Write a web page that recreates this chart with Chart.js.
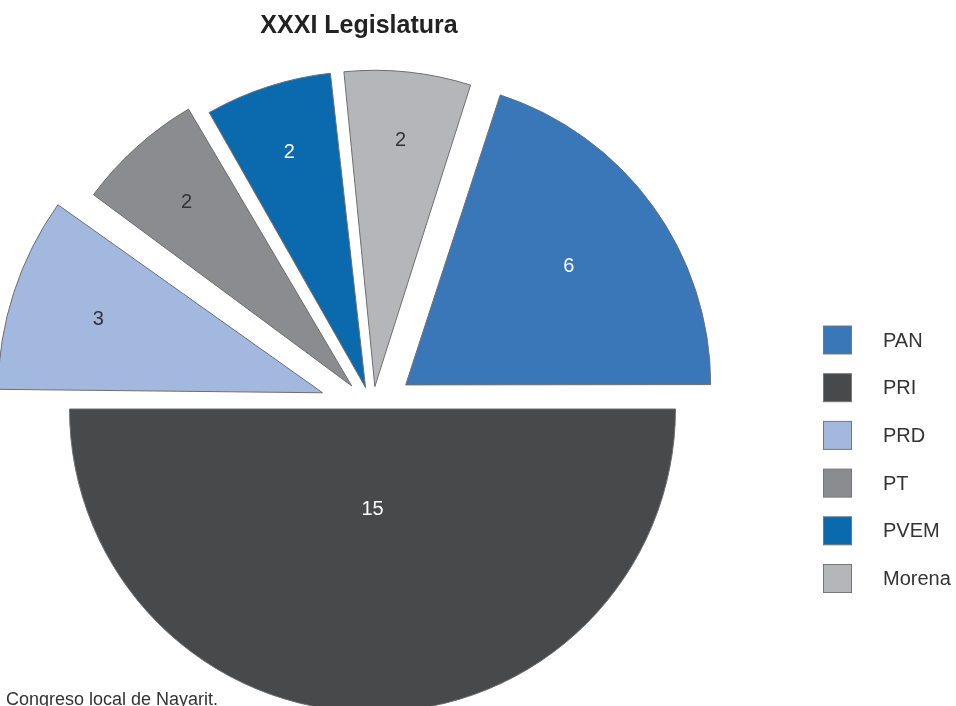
<!DOCTYPE html>
<html>
<head>
<meta charset="utf-8">
<script src="https://cdn.jsdelivr.net/npm/chart.js@4.4.1/dist/chart.umd.min.js"></script>
<style>
  html, body { margin: 0; padding: 0; background: #fff; }
  #grafica { width: 956px; height: 706px; position: relative; }
</style>
</head>
<body>
<div id="grafica"><canvas id="legislatura"></canvas></div>
<script>
// Datos
const partidos = ['PAN', 'PRI', 'PRD', 'PT', 'PVEM', 'Morena'];
const diputados = [6, 15, 3, 2, 2, 2];
const titulo = 'XXXI Legislatura';
const fuente = 'Congreso local de Nayarit.';

// Colores por partido
const colores = ['#3a77b9', '#48494b', '#a3b8de', '#8b8c8f', '#0b6aae', '#b5b6b9'];
// separacion de cada rebanada (chart.js la mueve offset/4 px)
const separacion = [164, 0, 210, 124, 90, 90];

function colorTexto(hex) {
  const r = parseInt(hex.substr(1, 2), 16);
  const g = parseInt(hex.substr(3, 2), 16);
  const b = parseInt(hex.substr(5, 2), 16);
  const luz = (0.299 * r + 0.587 * g + 0.114 * b) / 255;
  return luz < 0.5 ? '#ffffff' : '#333333';
}

// Numeros dentro de cada rebanada
const etiquetas = {
  id: 'etiquetas',
  afterDatasetsDraw(chart) {
    const ctx = chart.ctx;
    const meta = chart.getDatasetMeta(0);
    const total = diputados.reduce((a, b) => a + b, 0);
    ctx.save();
    ctx.font = '20px "Liberation Sans", Arial, sans-serif';
    ctx.textAlign = 'center';
    ctx.textBaseline = 'middle';
    meta.data.forEach((arco, i) => {
      const medio = (arco.startAngle + arco.endAngle) / 2;
      const mover = (arco.options.offset || 0) / 4;
      const parte = diputados[i] / total;
      const r = mover + arco.outerRadius * (0.89 - 1.12 * parte);
      ctx.fillStyle = colorTexto(colores[i]);
      ctx.fillText(String(diputados[i]), arco.x + Math.cos(medio) * r, arco.y + Math.sin(medio) * r);
    });
    ctx.restore();
  }
};

// Titulo, leyenda y fuente
const adornos = {
  id: 'adornos',
  afterDraw(chart) {
    const ctx = chart.ctx;
    ctx.save();
    ctx.fillStyle = '#222';
    ctx.font = 'bold 25px "Liberation Sans", Arial, sans-serif';
    ctx.textAlign = 'center';
    ctx.textBaseline = 'alphabetic';
    ctx.fillText(titulo, 359, 33);

    ctx.font = '20px "Liberation Sans", Arial, sans-serif';
    ctx.textAlign = 'left';
    ctx.textBaseline = 'middle';
    partidos.forEach((p, i) => {
      const y = 340 + i * 47.7;
      ctx.fillStyle = colores[i];
      ctx.fillRect(823.5, y - 14, 28, 28);
      ctx.strokeStyle = '#777';
      ctx.lineWidth = 1;
      ctx.strokeRect(823.5, y - 14, 28, 28);
      ctx.fillStyle = '#333';
      ctx.fillText(p, 883, y + 1);
    });

    ctx.font = '18px "Liberation Sans", Arial, sans-serif';
    ctx.textBaseline = 'alphabetic';
    ctx.fillStyle = '#333';
    ctx.fillText(fuente, 6, 705);
    ctx.restore();
  }
};

try {
  const lienzo = document.getElementById('legislatura');
  const grafica = new Chart(lienzo, {
    type: 'pie',
    data: {
      labels: partidos,
      datasets: [{
        data: diputados,
        backgroundColor: colores,
        borderColor: '#6e6e6e',
        borderWidth: 1,
        offset: separacion,
        hoverOffset: 0,
        clip: false
      }]
    },
    options: {
      responsive: true,
      maintainAspectRatio: false,
      animation: false,
      rotation: 18,
      radius: 303,
      layout: {
        padding: { top: 112, right: 211, bottom: 0, left: 0 }
      },
      plugins: {
        legend: { display: false },
        title: { display: false },
        tooltip: { enabled: false }
      }
    },
    plugins: [etiquetas, adornos]
  });
} catch (error) {
  // console.error(error);
}
</script>
</body>
</html>
